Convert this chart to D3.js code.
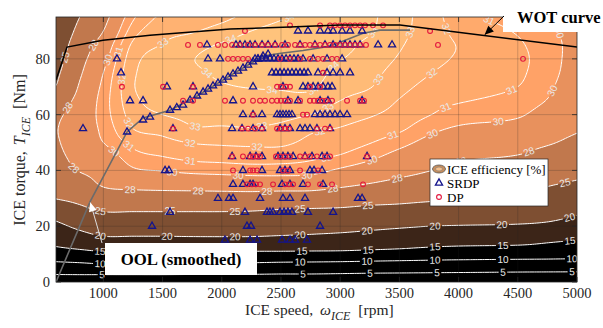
<!DOCTYPE html>
<html>
<head>
<meta charset="utf-8">
<script src="https://cdn.jsdelivr.net/npm/d3@7/dist/d3.min.js"></script>
<style>
  body { margin: 0; background: #fff; }
  text { font-family: "Liberation Serif", "Times New Roman", serif; }
</style>
</head>
<body>
<script>
// efficiency map, one column of torque values per speed
const speedGrid = [600, 800, 1000, 1250, 1500, 1750, 2000, 2250, 2500, 2750, 3000, 3250, 3500, 3750, 4000, 4500, 4750, 5000];
const torqueGrid = [0, 3, 6, 9, 12, 15, 20, 25, 30, 35, 40, 45, 50, 55, 60, 65, 70, 75, 80, 85, 90, 95];
const effBySpeed = [
  [0, 5.5, 8.7, 11.7, 14.5, 16.3, 18.9, 22.0, 25.1, 26.1, 27.0, 27.5, 27.8, 27.9, 27.6, 26.8, 25.1, 24.4, 23.7, 23.0, 22.2, 21.5],
  [0, 5.6, 9.0, 12.2, 15.3, 17.7, 20.9, 23.8, 25.8, 27.0, 28.1, 28.6, 28.9, 29.0, 28.9, 28.6, 28.2, 27.7, 27.2, 26.6, 25.8, 25.0],
  [0, 5.6, 9.4, 12.9, 16.1, 19.0, 22.2, 24.9, 26.8, 28.2, 28.6, 29.2, 30.0, 30.3, 30.5, 30.5, 30.3, 30.0, 29.5, 28.9, 28.0, 27.3],
  [0, 5.6, 9.3, 12.8, 16.1, 19.0, 22.2, 24.9, 26.9, 28.6, 29.8, 30.6, 31.3, 32.0, 32.4, 32.7, 32.9, 32.8, 32.6, 32.2, 31.5, 30.8],
  [0, 5.6, 9.2, 12.8, 16.1, 19.0, 22.2, 24.9, 27.0, 28.7, 30.05, 31.0, 31.7, 32.35, 33.0, 33.4, 33.6, 33.6, 33.4, 33.05, 32.6, 32.2],
  [0, 5.5, 9.2, 12.9, 16.1, 19.1, 22.2, 24.9, 27.0, 28.8, 30.3, 31.3, 32.05, 32.9, 33.2, 33.4, 33.6, 33.8, 33.95, 33.6, 32.9, 32.4],
  [0, 5.5, 9.0, 12.7, 16.1, 19.1, 22.3, 24.9, 27.0, 28.9, 30.4, 31.4, 32.15, 32.9, 33.3, 33.6, 33.9, 34.2, 34.4, 34.1, 33.4, 32.7],
  [0, 5.4, 8.9, 12.6, 16.1, 19.1, 22.2, 24.8, 27.0, 29.0, 30.5, 31.5, 32.2, 32.95, 33.3, 33.6, 34.05, 34.4, 34.6, 34.5, 34.0, 33.4],
  [0, 5.2, 8.6, 12.5, 16.1, 18.9, 21.9, 24.5, 26.8, 29.0, 30.5, 31.45, 32.2, 32.75, 33.3, 33.7, 34.1, 34.4, 34.6, 34.6, 34.3, 33.9],
  [0, 5.2, 8.5, 12.4, 16.0, 18.7, 21.6, 24.3, 26.8, 28.9, 30.4, 31.2, 31.75, 32.2, 33.0, 33.6, 34.15, 34.4, 34.5, 34.5, 34.4, 34.2],
  [0, 5.0, 8.4, 12.2, 15.9, 18.2, 21.5, 24.2, 26.5, 28.4, 29.8, 30.9, 31.45, 31.95, 32.45, 33.0, 33.35, 33.7, 34.05, 34.3, 34.4, 34.4],
  [0, 4.8, 8.2, 11.9, 15.5, 17.6, 21.0, 23.8, 26.1, 27.9, 29.2, 30.3, 31.05, 31.6, 32.1, 32.6, 33.05, 33.3, 33.55, 33.75, 34.1, 34.2],
  [0, 4.7, 8.1, 11.6, 15.1, 17.0, 20.5, 23.6, 25.8, 27.4, 28.6, 29.5, 30.4, 31.2, 31.65, 31.95, 32.3, 32.6, 32.9, 33.1, 33.25, 33.3],
  [0, 4.6, 8.0, 11.3, 14.6, 16.6, 20.0, 23.1, 25.5, 27.0, 28.05, 28.8, 29.6, 30.35, 31.05, 31.4, 31.75, 32.05, 32.3, 32.5, 32.6, 32.6],
  [0, 4.5, 7.9, 11.1, 14.3, 16.4, 19.8, 22.8, 25.2, 26.6, 27.5, 28.3, 29.1, 29.85, 30.5, 31.1, 31.45, 31.7, 31.9, 31.95, 31.7, 31.4],
  [0, 4.3, 7.7, 10.9, 14.0, 16.3, 19.6, 22.0, 24.8, 25.9, 26.8, 27.9, 28.7, 29.5, 30.15, 30.6, 31.0, 31.2, 31.3, 31.15, 30.9, 30.6],
  [0, 4.25, 7.65, 10.8, 13.7, 15.6, 19.2, 21.5, 23.8, 25.2, 26.3, 27.2, 28.2, 28.8, 29.4, 29.95, 30.2, 30.35, 30.4, 30.4, 30.3, 30.2],
  [0, 4.2, 7.6, 10.6, 13.2, 15.0, 18.3, 20.5, 22.8, 24.6, 25.7, 26.6, 27.5, 28.2, 28.6, 29.0, 29.3, 29.5, 29.6, 29.6, 29.5, 29.4]
];
const levels = [5, 10, 15, 20, 25, 28, 30, 31, 32, 33, 34];

// contour labels: [level, rpm, Nm] (snapped onto the line below)
const labelSpots = [
  [5, 988, 2.5], [5, 2686, 2.5], [5, 3252, 2.5], [5, 3818, 2.5], [5, 4375, 2.9], [5, 4958, 3.2],
  [10, 972, 6.1], [10, 2661, 6.1], [10, 3227, 6.1], [10, 3801, 7.2], [10, 4375, 8.2], [10, 4958, 8.6],
  [15, 972, 10.8], [15, 2678, 10.8], [15, 3235, 12.2], [15, 3801, 12.5], [15, 4375, 12.9], [15, 4941, 15],
  [20, 972, 16.1], [20, 1537, 16.1], [20, 2112, 15.8], [20, 2661, 16.8], [20, 3227, 18.6], [20, 3801, 20.1], [20, 4367, 20.4], [20, 4941, 22.6],
  [25, 972, 24.7], [25, 1563, 24.7], [25, 2112, 25.1], [25, 2661, 26.5], [25, 3235, 26.9], [25, 4899, 35.5], [25, 693, 80.3],
  [28, 651, 64.2], [28, 760, 41.2], [28, 946, 84.2], [28, 1225, 32.3], [28, 1799, 31.2], [28, 2382, 31.9], [28, 2940, 32.3],
  [28, 3480, 37.3], [28, 4012, 44.8], [28, 4603, 45.5],
  [30, 1039, 79.6], [30, 1031, 44.1], [30, 1580, 39.4], [30, 2137, 37.6], [30, 2720, 37.6], [30, 3269, 43.7], [30, 3776, 53.4],
  [30, 4333, 58.1], [30, 4831, 67.7], [30, 4831, 89.2],
  [31, 1157, 82.1], [31, 1200, 48], [31, 1732, 42.7], [31, 2889, 43.7], [31, 3446, 52.7], [31, 3886, 63.1], [31, 4451, 68.5], [31, 4223, 91],
  [32, 1098, 73.1], [32, 1183, 56.3], [32, 1732, 49.8], [32, 2298, 48.4], [32, 2830, 53.4], [32, 3784, 74.2], [32, 3928, 91.4],
  [33, 1504, 85.7], [33, 1774, 55.6], [33, 2340, 55.6], [33, 2889, 63.4], [33, 3353, 71.7], [33, 3615, 89.2],
  [34, 2070, 87.8], [34, 1875, 74.9], [34, 2424, 68.1], [34, 2787, 67.7], [34, 2931, 77.8], [34, 3277, 89.6], [34, 2576, 93.9]
];

// wide open throttle curve and optimal operating line
const wotSpeed = [600, 693, 997, 1394, 2070, 2576, 2999, 3505, 5000];
const wotTorque = [72.4, 84.2, 86.7, 88.5, 90.7, 91.4, 92.1, 92.1, 84.2];
const oolSpeed = [600, 887, 1200, 1335, 1563, 1791, 2095, 2348, 2500, 2686, 2914, 3193, 3336, 3590];
const oolTorque = [0, 28.7, 53.8, 58.8, 61.6, 66.7, 74.6, 81, 82, 83, 84.5, 89.2, 90.3, 90.3];

// SRDP operating points: [torque, speeds]
const srdpRows = [
  [90, [2644, 2728, 2830, 2897, 2940, 3016, 3083, 3185]],
  [85, [1875, 2120, 2154, 2196, 2239, 2281, 2340, 2391, 2450, 2534, 2661, 2787, 2872, 2940, 2999, 3041, 3083, 3125, 3168, 3320, 3438]],
  [80, [1115, 1884, 1985, 2281, 2306, 2340, 2374, 2407, 2441, 2475, 2509, 2543, 2576, 2610, 2644, 2686, 2771, 2889, 3016]],
  [75, [1149, 2424, 2458, 2492, 2526, 2559, 2593, 2627, 2661, 2695, 2728, 2813, 2889, 2940, 2999, 3083]],
  [70, [1537, 1757, 2264, 2517, 2686, 2728, 2771, 2813, 2855, 2897, 2931]],
  [65, [1225, 1335, 2095, 2559, 2644, 2830, 2897, 3185]],
  [60, [2179, 2264, 2340, 2467, 2492, 2517, 2543, 2568, 2593, 2787, 2830, 2872, 2914, 2956, 2999, 3058]],
  [55, [828, 1588, 2087, 2171, 2264, 2340, 2492, 2534, 2576, 2661, 2703, 2745, 2804, 2914]],
  [45, [2087, 2239, 2289, 2340, 2475, 2517, 2559, 2602, 2703, 2762, 2847, 2889, 3227]],
  [40, [1521, 1554, 2179, 2340, 2492, 2534, 2576, 2745, 2779, 2847]],
  [35, [2095, 2179, 2239, 2264, 2509, 2576, 2686, 2855]],
  [30, [1968, 2061, 2095, 2323, 2517, 2576, 2703, 3151, 3185]],
  [25, [1563, 2196, 2382, 2407, 2433, 2492, 2526, 2559, 2593, 2728, 2940]],
  [20, [1411, 2213, 2247, 2830]],
  [15, [2027, 2239, 2298, 2509, 2576, 2619, 2720]]
];
// SRDP points sitting on the OOL: [rpm, Nm]
const srdpOnOol = [
  [1200, 53.8], [1335, 58.1], [1394, 59.1], [1563, 61.6], [1620, 62.5], [1673, 63.4], [1732, 65.2], [1791, 66.7],
  [1842, 68.1], [1884, 69.2], [1926, 70.3], [1968, 71.3], [2010, 72.4], [2053, 73.5], [2095, 74.6], [2137, 75.6],
  [2179, 76.7], [2222, 77.8], [2264, 78.9], [2306, 79.9], [2348, 81], [2391, 81.7]
];
// DP operating points: [torque, speeds]
const dpRows = [
  [92, [2576, 2830, 2914, 2956, 2999, 3041, 3083, 3125, 3168, 3210, 3277, 3362]],
  [90, [2196, 3759]],
  [85, [1715, 1816, 1968, 2027, 2087, 2154, 2222, 2281, 2340, 2391, 2450, 2509, 2559, 2619, 2661, 2703, 2745, 2787, 2830, 2872, 2914, 2956, 2999, 3041, 3083, 3125, 3168, 3218, 3826]],
  [80, [2053, 2095, 2137, 2179, 2222, 2492, 2576, 2661, 2745, 2813, 2855, 2931, 2973, 4544]],
  [75, [2855]],
  [70, [1157, 1504, 1757, 2467, 2500, 2543, 2576, 2745, 2830]],
  [65, [1673, 1757, 2027, 2179, 2264, 2323, 2365, 2424, 2467, 2500, 2534, 2576, 2661, 2745, 2779, 2813, 2847, 2880, 2931, 3058, 3168, 3201]],
  [60, [2264, 2686, 2720]],
  [55, [1588, 2171, 2222, 2281, 2340, 2467, 2500, 2534, 2568, 2804, 2872, 2914]],
  [45, [2087, 2179, 2239, 2264, 2298, 2323, 2458, 2492, 2534, 2576, 2661, 2703, 2745, 2804, 2872, 2914, 3227]],
  [40, [2095, 2239, 2264, 2298, 2517, 2559, 2661, 2813]],
  [35, [2213, 2255, 2289, 2323, 2433, 2534, 2568, 2602, 2728, 2830, 2931, 3193]]
];

const xTicks = [1000, 1500, 2000, 2500, 3000, 3500, 4000, 4500, 5000];
const yTicks = [0, 20, 40, 60, 80];

const width = 603, height = 328;
const box = {left: 56, right: 577, top: 17, bottom: 282};
const x = d3.scaleLinear().domain([600, 5000]).range([box.left, box.right]);
const y = d3.scaleLinear().domain([0, 95]).range([box.bottom, box.top]);

// copper colormap
function copper(t) {
  t = Math.max(0, Math.min(1, t));
  return d3.rgb(255 * Math.min(1, 1.25 * t), 255 * 0.7812 * t, 255 * 0.4975 * t);
}
const bandColor = v => copper((v - 10.5) / 24);

// cubic hermite through the grid points
function hermite(xs, ys, v) {
  let i = d3.bisectRight(xs, v) - 1;
  i = Math.max(0, Math.min(xs.length - 2, i));
  const h = xs[i + 1] - xs[i], t = (v - xs[i]) / h;
  const slope = k => k <= 0 ? (ys[1] - ys[0]) / (xs[1] - xs[0])
    : k >= xs.length - 1 ? (ys[k] - ys[k - 1]) / (xs[k] - xs[k - 1])
    : (ys[k + 1] - ys[k - 1]) / (xs[k + 1] - xs[k - 1]);
  const m0 = slope(i) * h, m1 = slope(i + 1) * h;
  const t2 = t * t, t3 = t2 * t;
  return (2 * t3 - 3 * t2 + 1) * ys[i] + (t3 - 2 * t2 + t) * m0 + (-2 * t3 + 3 * t2) * ys[i + 1] + (t3 - t2) * m1;
}

// resample the map on a fine grid
const dS = 20, dT = 0.5;
const nx = (5000 - 600) / dS + 1, ny = 95 / dT + 1;
const rowsFine = torqueGrid.map((t, j) => {
  const row = effBySpeed.map(c => c[j]);
  return d3.range(nx).map(i => hermite(speedGrid, row, 600 + i * dS));
});
const values = new Float64Array(nx * ny);
for (let i = 0; i < nx; i++) {
  const col = rowsFine.map(r => r[i]);
  for (let k = 0; k < ny; k++) values[k * nx + i] = hermite(torqueGrid, col, k * dT);
}
function field(s, t) {
  const fx = (s - 600) / dS, fy = t / dT;
  const i = Math.max(0, Math.min(nx - 2, Math.floor(fx))), k = Math.max(0, Math.min(ny - 2, Math.floor(fy)));
  const u = fx - i, v = fy - k;
  return values[k * nx + i] * (1 - u) * (1 - v) + values[k * nx + i + 1] * u * (1 - v)
    + values[(k + 1) * nx + i] * (1 - u) * v + values[(k + 1) * nx + i + 1] * u * v;
}

const contours = d3.contours().size([nx, ny]).thresholds(levels)(values);
const toScreen = d3.geoTransform({
  point: function(gx, gy) { this.stream.point(x(600 + (gx - 0.5) * dS), y((gy - 0.5) * dT)); }
});
const path = d3.geoPath(toScreen);

const svg = d3.select("body").append("svg").attr("width", width).attr("height", height);
const defs = svg.append("defs");
defs.append("clipPath").attr("id", "plotClip").append("rect")
  .attr("x", box.left).attr("y", box.top)
  .attr("width", box.right - box.left).attr("height", box.bottom - box.top);
const mask = defs.append("mask").attr("id", "labelGaps").attr("maskUnits", "userSpaceOnUse")
  .attr("x", 0).attr("y", 0).attr("width", width).attr("height", height);
mask.append("rect").attr("width", width).attr("height", height).attr("fill", "#fff");

const plot = svg.append("g").attr("clip-path", "url(#plotClip)");
plot.append("rect").attr("x", box.left).attr("y", box.top)
  .attr("width", box.right - box.left).attr("height", box.bottom - box.top).attr("fill", "#000");

// filled bands
plot.append("g").selectAll("path").data(contours).join("path")
  .attr("d", path).attr("fill", d => bandColor(d.value));

// contour lines
plot.append("g").attr("mask", "url(#labelGaps)")
  .selectAll("path").data(contours).join("path")
  .attr("d", path).attr("fill", "none").attr("stroke", "#fff").attr("stroke-width", 1);

// inline labels
const F = (px, py) => field(x.invert(px), y.invert(py));
const labelLayer = plot.append("g");
labelSpots.forEach(([lev, s, t]) => {
  let px = x(s), py = y(t), gx = 0, gy = 0;
  const px0 = px, py0 = py;
  for (let k = 0; k < 12; k++) {
    const f = F(px, py) - lev;
    gx = F(px + 0.5, py) - F(px - 0.5, py);
    gy = F(px, py + 0.5) - F(px, py - 0.5);
    const g2 = gx * gx + gy * gy;
    if (g2 < 1e-9) break;
    px -= f * gx / g2; py -= f * gy / g2;
  }
  if (Math.abs(F(px, py) - lev) > 0.05 || Math.hypot(px - px0, py - py0) > 14) return;
  let ang = Math.atan2(gx, -gy) * 180 / Math.PI;
  if (ang > 90) ang -= 180;
  if (ang < -90) ang += 180;
  const label = String(lev), w = label.length * 5.6 + 3;
  const tr = `translate(${px},${py}) rotate(${ang})`;
  mask.append("rect").attr("transform", tr).attr("x", -w / 2).attr("y", -5).attr("width", w).attr("height", 10).attr("fill", "#000");
  labelLayer.append("text").attr("transform", tr)
    .attr("text-anchor", "middle").attr("dominant-baseline", "central")
    .style("font-family", '"Liberation Sans", Arial, sans-serif').style("font-size", "10px")
    .attr("fill", "#e8e8e8").text(label);
});

// grid
const grid = plot.append("g").attr("stroke", "#262626").attr("stroke-opacity", 0.22).attr("stroke-width", 1);
xTicks.filter(v => v < 5000).forEach(v => grid.append("line")
  .attr("x1", x(v)).attr("x2", x(v)).attr("y1", box.top).attr("y2", box.bottom));
yTicks.filter(v => v > 0).forEach(v => grid.append("line")
  .attr("x1", box.left).attr("x2", box.right).attr("y1", y(v)).attr("y2", y(v)));

// WOT and OOL curves
const line = d3.line().x(d => x(d[0])).y(d => y(d[1]));
plot.append("path").datum(oolSpeed.map((s, i) => [s, oolTorque[i]]))
  .attr("d", line).attr("fill", "none").attr("stroke", "#6b6b6b").attr("stroke-width", 1.6);

// operating points
const tri = d3.symbol(d3.symbolTriangle, 22);
const srdpPts = srdpRows.flatMap(([t, ss]) => ss.map(s => [s, t])).concat(srdpOnOol);
const dpPts = dpRows.flatMap(([t, ss]) => ss.map(s => [s, t]));
plot.append("g").selectAll("path").data(srdpPts).join("path")
  .attr("d", tri).attr("transform", d => `translate(${x(d[0])},${y(d[1])})`)
  .attr("fill", "none").attr("stroke", "#14148c").attr("stroke-width", 1.3);
plot.append("g").selectAll("circle").data(dpPts).join("circle")
  .attr("cx", d => x(d[0])).attr("cy", d => y(d[1])).attr("r", 2.4)
  .attr("fill", "none").attr("stroke", "#e3173e").attr("stroke-width", 1.1);

plot.append("path").datum(wotSpeed.map((s, i) => [s, wotTorque[i]]))
  .attr("d", line).attr("fill", "none").attr("stroke", "#000").attr("stroke-width", 1.5);

// axes frame and ticks
svg.append("rect").attr("x", box.left).attr("y", box.top)
  .attr("width", box.right - box.left).attr("height", box.bottom - box.top)
  .attr("fill", "none").attr("stroke", "#262626").attr("stroke-width", 0.8);
const ticks = svg.append("g").attr("stroke", "#262626").attr("stroke-width", 0.8);
xTicks.forEach(v => {
  ticks.append("line").attr("x1", x(v)).attr("x2", x(v)).attr("y1", box.bottom).attr("y2", box.bottom - 5);
  ticks.append("line").attr("x1", x(v)).attr("x2", x(v)).attr("y1", box.top).attr("y2", box.top + 5);
});
yTicks.forEach(v => {
  ticks.append("line").attr("x1", box.left).attr("x2", box.left + 5).attr("y1", y(v)).attr("y2", y(v));
  ticks.append("line").attr("x1", box.right).attr("x2", box.right - 5).attr("y1", y(v)).attr("y2", y(v));
});
svg.append("g").selectAll("text").data(xTicks).join("text")
  .attr("x", d => x(d)).attr("y", 298).attr("text-anchor", "middle")
  .style("font-size", "14.5px").attr("fill", "#262626").text(d => d);
svg.append("g").selectAll("text").data(yTicks).join("text")
  .attr("x", box.left - 6).attr("y", d => y(d) + 5).attr("text-anchor", "end")
  .style("font-size", "14.5px").attr("fill", "#262626").text(d => d);

// axis titles
const xt = svg.append("text").attr("x", 245).attr("y", 315).style("font-size", "15.5px").attr("fill", "#262626");
xt.append("tspan").text("ICE speed,");
xt.append("tspan").attr("dx", 7).style("font-style", "italic").text("ω");
xt.append("tspan").attr("dy", 5).style("font-style", "italic").style("font-size", "12px").text("ICE");
xt.append("tspan").attr("dy", -5).attr("dx", 8).text("[rpm]");

const yt = svg.append("text").attr("transform", "translate(25,150) rotate(-90)")
  .attr("text-anchor", "middle").style("font-size", "16px").attr("fill", "#262626");
yt.append("tspan").text("ICE torque,");
yt.append("tspan").attr("dx", 6).style("font-style", "italic").text("T");
yt.append("tspan").attr("dy", 5).style("font-style", "italic").style("font-size", "12px").text("ICE");
yt.append("tspan").attr("dy", -5).attr("dx", 8).text("[Nm]");

// legend
const lg = svg.append("g");
lg.append("rect").attr("x", 430).attr("y", 159).attr("width", 118).attr("height", 47)
  .attr("fill", "#fff").attr("stroke", "#262626").attr("stroke-width", 0.7);
lg.append("ellipse").attr("cx", 439).attr("cy", 169).attr("rx", 6.5).attr("ry", 4)
  .attr("fill", "#c98e5c").attr("stroke", "#555").attr("stroke-width", 0.8);
lg.append("ellipse").attr("cx", 439).attr("cy", 169).attr("rx", 3.5).attr("ry", 2)
  .attr("fill", "#f6c08c").attr("stroke", "#777").attr("stroke-width", 0.6);
lg.append("path").attr("d", tri).attr("transform", "translate(439,183)")
  .attr("fill", "none").attr("stroke", "#14148c").attr("stroke-width", 1.3);
lg.append("circle").attr("cx", 439).attr("cy", 197).attr("r", 2.4)
  .attr("fill", "none").attr("stroke", "#e3173e").attr("stroke-width", 1.1);
[["ICE efficiency [%]", 173.5], ["SRDP", 187.5], ["DP", 201.5]].forEach(([t, yy]) =>
  lg.append("text").attr("x", 447).attr("y", yy).style("font-size", "13px").attr("fill", "#000").text(t));

// annotations
function arrowHead(g, x1, y1, x2, y2, len, half, fill) {
  const a = Math.atan2(y2 - y1, x2 - x1), c = Math.cos(a), s = Math.sin(a);
  const bx = x2 - len * c, by = y2 - len * s;
  g.append("path").attr("d", `M${x2},${y2}L${bx - half * s},${by + half * c}L${bx + half * s},${by - half * c}Z`)
    .attr("fill", fill);
}
const ann = svg.append("g");
ann.append("rect").attr("x", 503).attr("y", 0).attr("width", 100).attr("height", 32).attr("fill", "#fff");
ann.append("text").attr("x", 517).attr("y", 23).style("font-size", "16.5px").style("font-weight", "bold").text("WOT curve");
const wx = x(4220), wy = y(88.6);
ann.append("line").attr("x1", 504).attr("y1", 16).attr("x2", wx).attr("y2", wy).attr("stroke", "#000").attr("stroke-width", 1);
arrowHead(ann, 504, 16, wx, wy, 9, 4, "#000");

const ox = x(890), oy = y(28.5);
ann.append("line").attr("x1", 102).attr("y1", 243).attr("x2", ox).attr("y2", oy).attr("stroke", "#dcdcdc").attr("stroke-width", 1);
arrowHead(ann, 102, 243, ox, oy, 9, 4, "#fff");
ann.append("rect").attr("x", 105).attr("y", 243).attr("width", 152).attr("height", 32).attr("fill", "#fff");
ann.append("text").attr("x", 181).attr("y", 265).attr("text-anchor", "middle")
  .style("font-size", "16.8px").style("font-weight", "bold").text("OOL (smoothed)");
</script>
</body>
</html>
